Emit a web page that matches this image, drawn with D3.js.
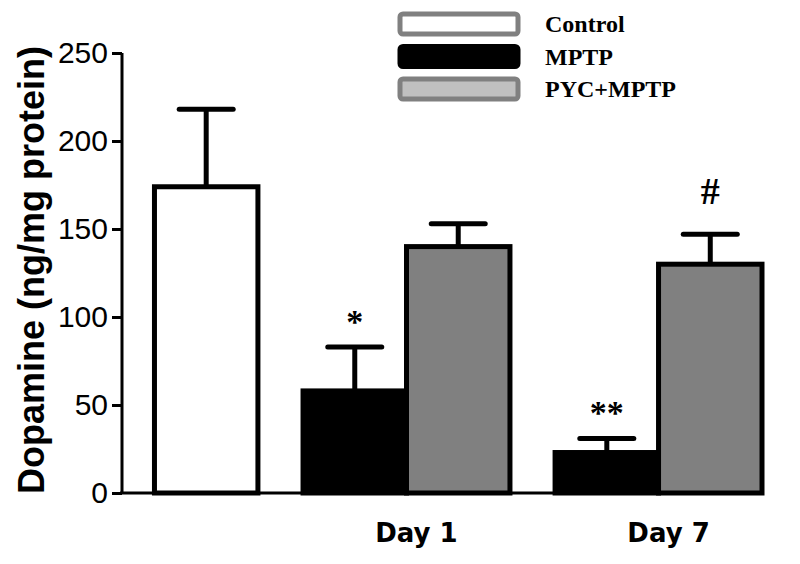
<!DOCTYPE html>
<html>
<head>
<meta charset="utf-8">
<script src="https://cdn.jsdelivr.net/npm/d3@7"></script>
<style>
  body { margin: 0; background: #fff; }
  .tick text { font-family: "Liberation Sans", Arial, sans-serif; font-size: 30px; fill: #000; }
  .legend text { font-family: "Liberation Serif", "Times New Roman", serif; font-weight: bold; font-size: 24px; }
</style>
</head>
<body>
<div id="chart"></div>
<script>
// groups on the x axis (first group holds only the control bar)
var groups = ["Control", "Day 1", "Day 7"];
var groupLabels = ["", "Day 1", "Day 7"];
var series = ["Control", "MPTP", "PYC+MPTP"];

// one entry per bar
var barGroup = ["Control", "Day 1", "Day 1", "Day 7", "Day 7"];
var barSeries = ["Control", "MPTP", "PYC+MPTP", "MPTP", "PYC+MPTP"];
var barMean = [174, 58, 140, 23, 130];
var barErr = [44, 25, 13, 8, 17];
var barMark = ["", "*", "", "**", "#"];

var yTicks = [0, 50, 100, 150, 200, 250];

var width = 800, height = 564;
var svg = d3.select("#chart").append("svg")
  .attr("width", width)
  .attr("height", height);

var y = d3.scaleLinear().domain([0, 250]).range([493, 53]);

var x0 = d3.scaleBand()
  .domain(groups)
  .range([51, 762])
  .paddingInner(0.179)
  .paddingOuter(0);

// control sits in the right-hand slot of its group
var x1 = d3.scaleBand()
  .domain(["MPTP", "PYC+MPTP"])
  .range([0, x0.bandwidth()]);
function slotOf(s) { return s == "Control" ? "PYC+MPTP" : s; }

var fills = { "Control": "#ffffff", "MPTP": "#000000", "PYC+MPTP": "#808080" };

var bars = barMean.map(function (m, i) {
  return { group: barGroup[i], series: barSeries[i], mean: m, err: barErr[i], mark: barMark[i] };
});

//bars
var g = svg.selectAll("g.bar").data(bars).enter().append("g").attr("class", "bar");
g.append("rect")
  .attr("x", function (d) { return x0(d.group) + x1(slotOf(d.series)); })
  .attr("y", function (d) { return y(d.mean); })
  .attr("width", x1.bandwidth())
  .attr("height", function (d) { return y(0) - y(d.mean); })
  .attr("fill", function (d) { return fills[d.series]; })
  .attr("stroke", "#000")
  .attr("stroke-width", 5);

//error bars (upper only)
function cx(d) { return x0(d.group) + x1(slotOf(d.series)) + x1.bandwidth() / 2; }
g.append("line")
  .attr("x1", cx).attr("x2", cx)
  .attr("y1", function (d) { return y(d.mean); })
  .attr("y2", function (d) { return y(d.mean + d.err); })
  .attr("stroke", "#000").attr("stroke-width", 5);
g.append("line")
  .attr("x1", function (d) { return cx(d) - 27; })
  .attr("x2", function (d) { return cx(d) + 27; })
  .attr("y1", function (d) { return y(d.mean + d.err); })
  .attr("y2", function (d) { return y(d.mean + d.err); })
  .attr("stroke", "#000").attr("stroke-width", 5)
  .attr("stroke-linecap", "round");

//significance marks
g.filter(function (d) { return d.mark != ""; })
  .append("text")
  .attr("x", cx)
  .attr("y", function (d) { return y(d.mean + d.err) - (d.mark == "#" ? 30 : 14); })
  .attr("text-anchor", "middle")
  .style("font-family", "'Liberation Serif', 'Times New Roman', serif")
  .style("font-weight", "bold")
  .style("font-size", function (d) { return d.mark == "#" ? "38px" : "34px"; })
  .text(function (d) { return d.mark; });

//axes
var yAxis = d3.axisLeft(y).tickValues(yTicks).tickSize(10).tickPadding(4);
var ya = svg.append("g").attr("transform", "translate(122,0)").call(yAxis);
ya.select(".domain").attr("stroke-width", 3).attr("d", "M0," + y(250) + "V" + y(0));
ya.selectAll(".tick line").attr("stroke-width", 3);

svg.append("line")
  .attr("x1", 120).attr("x2", 764)
  .attr("y1", y(0)).attr("y2", y(0))
  .attr("stroke", "#000").attr("stroke-width", 3);

svg.selectAll("text.xlab").data(groups).enter().append("text")
  .attr("class", "xlab")
  .attr("x", function (d) { return x0(d) + x0.bandwidth() / 2 + 10; })
  .attr("y", 542)
  .attr("text-anchor", "middle")
  .style("font-family", "'DejaVu Sans', Verdana, sans-serif")
  .style("font-weight", "bold")
  .style("font-size", "26px")
  .text(function (d, i) { return groupLabels[i]; });

svg.append("text")
  .attr("transform", "translate(44,270) rotate(-90)")
  .attr("text-anchor", "middle")
  .style("font-family", "'Liberation Sans', Arial, sans-serif")
  .style("font-weight", "bold")
  .style("font-size", "36px")
  .text("Dopamine (ng/mg protein)");

//legend
var legendFill = { "Control": "#ffffff", "MPTP": "#000000", "PYC+MPTP": "#c0c0c0" };
var legendStroke = { "Control": "#808080", "MPTP": "#000000", "PYC+MPTP": "#808080" };
var lg = svg.append("g").attr("class", "legend")
  .selectAll("g").data(series).enter().append("g")
  .attr("transform", function (d, i) { return "translate(400," + (14 + i * 32.5) + ")"; });
lg.append("rect")
  .attr("width", 118).attr("height", 20).attr("rx", 3)
  .attr("fill", function (d) { return legendFill[d]; })
  .attr("stroke", function (d) { return legendStroke[d]; })
  .attr("stroke-width", 5);
lg.append("text")
  .attr("x", 145).attr("y", 18)
  .text(function (d) { return d; });
</script>
</body>
</html>
